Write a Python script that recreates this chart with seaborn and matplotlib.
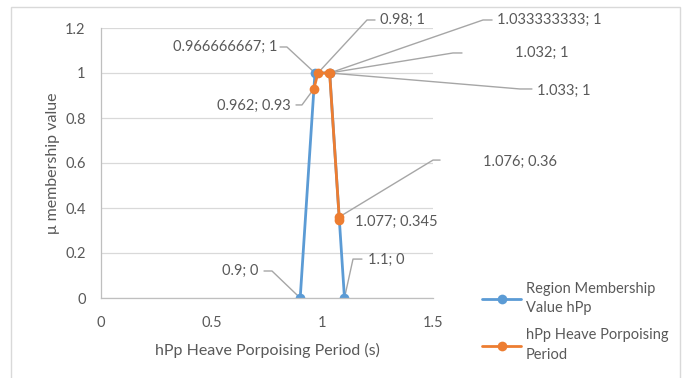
import matplotlib
matplotlib.use("Agg")
import matplotlib.pyplot as plt
import seaborn as sns
from matplotlib.patches import Rectangle
from matplotlib.ticker import FuncFormatter

# data
blue_x = [0.9, 0.966666667, 1.033333333, 1.1]
blue_y = [0, 1, 1, 0]
orange_x = [0.962, 0.98, 1.032, 1.033, 1.076, 1.077]
orange_y = [0.93, 1, 1, 1, 0.36, 0.345]
blue_name = "Region Membership\nValue hPp"
orange_name = "hPp Heave Porpoising\nPeriod"

sns.set_theme(style="white")
plt.rcParams["font.family"] = ["Lato", "DejaVu Sans"]
txt = "#595959"
lead = "#A6A6A6"
fs = 10.5

fig = plt.figure(figsize=(6.89, 3.78), dpi=100)
ax = fig.add_axes([101 / 689, 80 / 378, 332 / 689, 270 / 378])

sns.lineplot(x=blue_x, y=blue_y, ax=ax, color="#5B9BD5", marker="o", markersize=7,
             markeredgewidth=0, linewidth=2, sort=False, estimator=None, label=blue_name)
sns.lineplot(x=orange_x, y=orange_y, ax=ax, color="#ED7D31", marker="o", markersize=7,
             markeredgewidth=0, linewidth=2, sort=False, estimator=None, label=orange_name)

ax.set_xlim(0, 1.5)
ax.set_ylim(0, 1.2)
ax.set_xticks([0, 0.5, 1, 1.5])
ax.set_yticks([0, 0.2, 0.4, 0.6, 0.8, 1, 1.2])
fmt = FuncFormatter(lambda v, p: "{:g}".format(round(v, 2)))
ax.xaxis.set_major_formatter(fmt)
ax.yaxis.set_major_formatter(fmt)
ax.yaxis.grid(True, color="#D9D9D9", linewidth=0.9)
ax.set_axisbelow(True)
for s in ["top", "right"]:
    ax.spines[s].set_visible(False)
for s in ["left", "bottom"]:
    ax.spines[s].set_color("#BFBFBF")
    ax.spines[s].set_linewidth(0.9)
ax.tick_params(axis="both", which="major", direction="out", length=5, width=0.9,
               color="#BFBFBF", labelcolor=txt, labelsize=fs, pad=6)
ax.tick_params(axis="x", pad=8)
ax.set_xlabel("hPp Heave Porpoising Period (s)", color=txt, fontsize=11.5, labelpad=9)
ax.set_ylabel("μ membership value", color=txt, fontsize=11.5, labelpad=4)

# data labels with leader lines: (x, y, leader path, text position, alignment)
labels = [
    (orange_x[1], orange_y[1], [(1.2018, 1.2356), (1.238, 1.2356)], (1.26, 1.2356), "left"),
    (blue_x[1], blue_y[1], [(0.84, 1.1156), (0.809, 1.1156)], (0.795, 1.1156), "right"),
    (blue_x[2], blue_y[2], [(1.726, 1.2356), (1.767, 1.2356)], (1.789, 1.2356), "left"),
    (orange_x[2], orange_y[2], [(1.59, 1.089), (1.631, 1.089)], (1.87, 1.089), "left"),
    (orange_x[3], orange_y[3], [(1.893, 0.929), (1.947, 0.929)], (1.97, 0.92), "left"),
    (orange_x[0], orange_y[0], [(0.908, 0.858), (0.881, 0.858)], (0.858, 0.853), "right"),
    (orange_x[4], orange_y[4], [(1.5, 0.613), (1.532, 0.613)], (1.726, 0.604), "left"),
    (orange_x[5], orange_y[5], [], (1.148, 0.338), "left"),
    (blue_x[0], blue_y[0], [(0.7726, 0.12), (0.7365, 0.12)], (0.709, 0.12), "right"),
    (blue_x[3], blue_y[3], [(1.1386, 0.173), (1.179, 0.173)], (1.206, 0.169), "left"),
]
for px, py, path, (tx, ty), ha in labels:
    if path:
        xs = [px] + [p[0] for p in path]
        ys = [py] + [p[1] for p in path]
        ax.plot(xs, ys, color=lead, linewidth=1, clip_on=False, zorder=1)
    ax.text(tx, ty, "{:.10g}; {:.10g}".format(px, py), ha=ha, va="center",
            color=txt, fontsize=fs, clip_on=False)

leg = ax.legend(loc="upper left", bbox_to_anchor=(476 / 689, 1 - 276 / 378),
                bbox_transform=fig.transFigure, frameon=False, fontsize=fs,
                labelcolor=txt, handlelength=2.7, handletextpad=0.3, labelspacing=0.9,
                borderaxespad=0)
for t in leg.get_texts():
    t.set_linespacing(1.5)

fig.add_artist(Rectangle((11 / 689, -0.05), 669 / 689, 1.05 - 7 / 378,
                         transform=fig.transFigure, fill=False,
                         edgecolor="#D9D9D9", linewidth=1))

fig.savefig("out.png", dpi=100)
